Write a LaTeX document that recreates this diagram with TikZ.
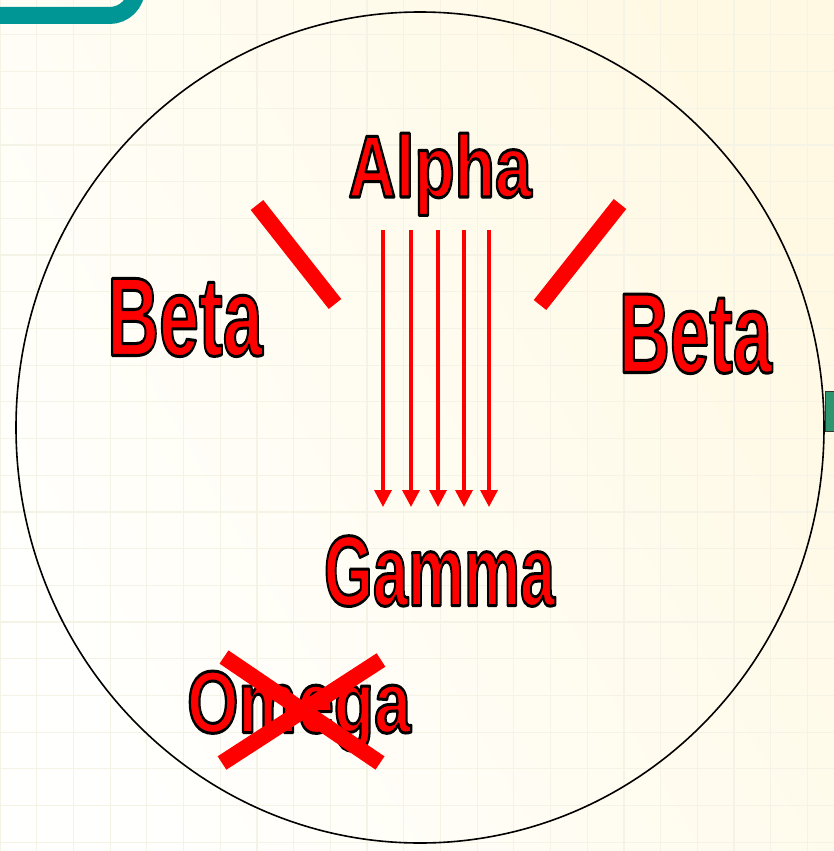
\documentclass[tikz,border=0pt]{standalone}
\usepackage{fontspec}
\setmainfont{Liberation Sans}
\usetikzlibrary{arrows.meta}
\definecolor{tealc}{RGB}{0,150,150}
\definecolor{greenc}{RGB}{46,150,110}
\definecolor{gridc}{RGB}{244,243,230}
\definecolor{bgA}{RGB}{255,255,253}
\definecolor{bgB}{RGB}{255,249,228}
\newcommand{\outl}[1]{\special{pdf:literal direct 0 0 0 RG 3 w 1 j 2 Tr}#1\special{pdf:literal direct 0 Tr}}
\tikzset{
  word/.style={text=red, inner sep=0pt, anchor=base},
  bar/.style={draw=red, line width=16pt, line cap=butt},
  ray/.style={draw=red, line width=3.5pt, -{Triangle[width=17pt,length=17pt]}},
  gridline/.style={draw=gridc, line width=1.2pt}
}
\begin{document}
\begin{tikzpicture}[x=1pt,y=-1pt]
\useasboundingbox (0,0) rectangle (834,851);
\clip (0,0) rectangle (834,851);
% background
\shade[left color=bgA, right color=bgB, shading angle=120] (0,0) rectangle (834,851);
\foreach \i in {0,...,23} \draw[gridline] ({\i*36.7},0) -- ({\i*36.7},851);
\foreach \j in {0,...,23} \draw[gridline] (0,{\j*36.7-1.9}) -- (834,{\j*36.7-1.9});
% decorations at edges
\draw[tealc, line width=17pt] (-20,15.5) -- (109.5,15.5) arc[start angle=90, end angle=0, radius=27] -- (136.5,-30);
\draw[fill=greenc, draw=black!80, line width=1pt] (825,391) rectangle (845,431);
% circle
\draw[line width=1.6pt] (420,427.5) ellipse [x radius=404, y radius=415.5];
% texts
\node[word, font=\bfseries\fontsize{88}{90}\selectfont] (alpha) at (440,197) {\scalebox{0.75}[1]{\outl{Alpha}}};
\node[word, font=\bfseries\fontsize{112}{114}\selectfont] (betaL) at (185,355.5) {\scalebox{0.64}[1]{\outl{Beta}}};
\node[word, font=\bfseries\fontsize{114}{116}\selectfont] (betaR) at (695.5,372.5) {\scalebox{0.62}[1]{\outl{Beta}}};
\node[word, font=\bfseries\fontsize{100}{102}\selectfont] (gamma) at (439.5,605.5) {\scalebox{0.63}[1]{\outl{Gamma}}};
\node[word, font=\bfseries\fontsize{88}{90}\selectfont] (omega) at (299,732.5) {\scalebox{0.75}[1]{\outl{Omega}}};
% rays
\foreach \x [count=\k] in {383,411,438,464,489} {
  \coordinate (s\k) at (\x,230);
  \coordinate (e\k) at (\x,507);
  \draw[ray] (s\k) -- (e\k);
}
% slashes
\coordinate (l1) at (257,205); \coordinate (l2) at (335,304);
\coordinate (r1) at (620,204); \coordinate (r2) at (540,305);
\draw[bar] (l1) -- (l2);
\draw[bar] (r1) -- (r2);
% cross over Omega
\coordinate (c1) at (224,657); \coordinate (c2) at (380,763);
\coordinate (c3) at (381,660); \coordinate (c4) at (222,763);
\draw[bar] (c1) -- (c2);
\draw[bar] (c3) -- (c4);
\end{tikzpicture}
\end{document}
